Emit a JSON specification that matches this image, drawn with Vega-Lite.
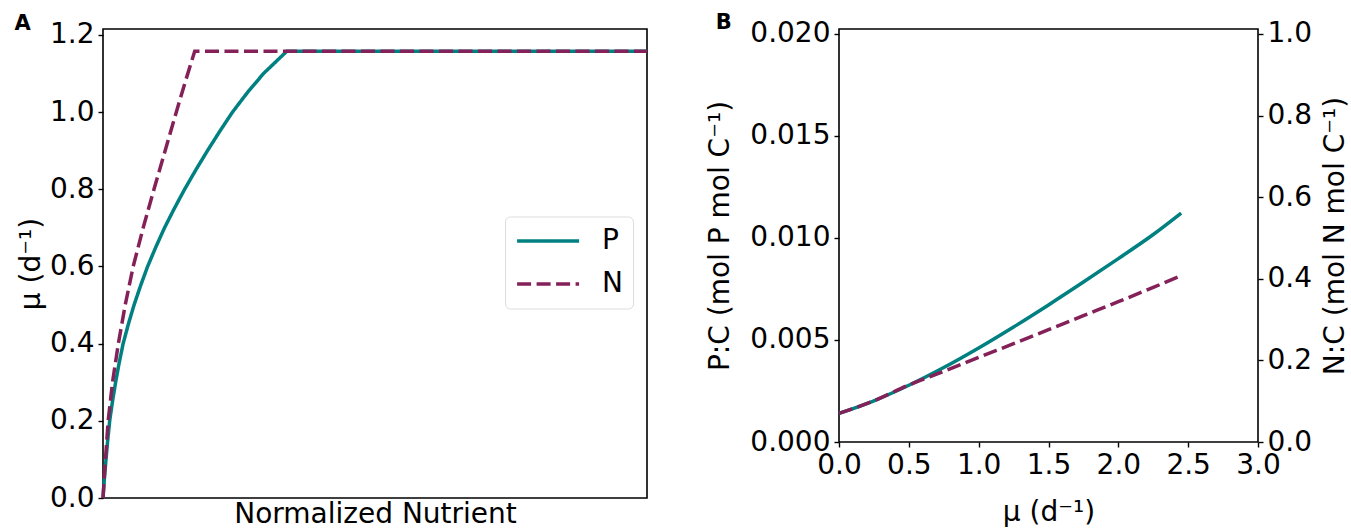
{
  "$schema": "https://vega.github.io/schema/vega-lite/v6.json",
  "padding": {"left": 13, "top": 11, "right": 0, "bottom": 0},
  "spacing": 51,
  "config": {
    "font": "DejaVu Sans",
    "view": {"stroke": "black", "strokeWidth": 1.6},
    "axis": {
      "domainColor": "black", "domainWidth": 1.6,
      "tickColor": "black", "tickWidth": 1.4, "tickSize": 5,
      "labelFontSize": 28, "titleFontSize": 28,
      "labelColor": "black", "titleColor": "black",
      "labelFont": "DejaVu Sans", "titleFont": "DejaVu Sans",
      "titleFontWeight": "normal", "grid": false,
      "labelPadding": 4, "labelFlush": false, "labelOverlap": false
    },
    "title": {"fontSize": 21, "fontWeight": "bold", "anchor": "start", "color": "black", "font": "DejaVu Sans"}
  },
  "datasets": {
    "growth": [
      {"nutrient": "P", "s": 0, "mu": 0},
      {"nutrient": "P", "s": 0.0025, "mu": 0.05},
      {"nutrient": "P", "s": 0.0055, "mu": 0.1},
      {"nutrient": "P", "s": 0.0087, "mu": 0.15},
      {"nutrient": "P", "s": 0.0123, "mu": 0.2},
      {"nutrient": "P", "s": 0.0174, "mu": 0.25},
      {"nutrient": "P", "s": 0.0232, "mu": 0.3},
      {"nutrient": "P", "s": 0.0297, "mu": 0.35},
      {"nutrient": "P", "s": 0.037, "mu": 0.4},
      {"nutrient": "P", "s": 0.0465, "mu": 0.45},
      {"nutrient": "P", "s": 0.057, "mu": 0.5},
      {"nutrient": "P", "s": 0.069, "mu": 0.55},
      {"nutrient": "P", "s": 0.082, "mu": 0.6},
      {"nutrient": "P", "s": 0.097, "mu": 0.65},
      {"nutrient": "P", "s": 0.113, "mu": 0.7},
      {"nutrient": "P", "s": 0.131, "mu": 0.75},
      {"nutrient": "P", "s": 0.150, "mu": 0.8},
      {"nutrient": "P", "s": 0.1705, "mu": 0.85},
      {"nutrient": "P", "s": 0.192, "mu": 0.9},
      {"nutrient": "P", "s": 0.2145, "mu": 0.95},
      {"nutrient": "P", "s": 0.238, "mu": 1.0},
      {"nutrient": "P", "s": 0.265, "mu": 1.05},
      {"nutrient": "P", "s": 0.295, "mu": 1.1},
      {"nutrient": "P", "s": 0.338, "mu": 1.158},
      {"nutrient": "P", "s": 1.0, "mu": 1.158},
      {"nutrient": "N", "s": 0, "mu": 0},
      {"nutrient": "N", "s": 0.0022, "mu": 0.05},
      {"nutrient": "N", "s": 0.0045, "mu": 0.1},
      {"nutrient": "N", "s": 0.0095, "mu": 0.2},
      {"nutrient": "N", "s": 0.0175, "mu": 0.3},
      {"nutrient": "N", "s": 0.0282, "mu": 0.4},
      {"nutrient": "N", "s": 0.0408, "mu": 0.5},
      {"nutrient": "N", "s": 0.0555, "mu": 0.6},
      {"nutrient": "N", "s": 0.0738, "mu": 0.7},
      {"nutrient": "N", "s": 0.0937, "mu": 0.8},
      {"nutrient": "N", "s": 0.1142, "mu": 0.9},
      {"nutrient": "N", "s": 0.1347, "mu": 1.0},
      {"nutrient": "N", "s": 0.1515, "mu": 1.08},
      {"nutrient": "N", "s": 0.1686, "mu": 1.158},
      {"nutrient": "N", "s": 1.0, "mu": 1.158}
    ],
    "quota": [
      {"mu": 0, "pc": 0.0014, "nc": 0.07},
      {"mu": 0.25, "pc": 0.00202, "nc": 0.101},
      {"mu": 0.5, "pc": 0.00278, "nc": 0.1397},
      {"mu": 0.75, "pc": 0.00365, "nc": 0.1731},
      {"mu": 1.0, "pc": 0.00461, "nc": 0.2075},
      {"mu": 1.25, "pc": 0.00564, "nc": 0.2409},
      {"mu": 1.5, "pc": 0.00672, "nc": 0.2752},
      {"mu": 1.75, "pc": 0.00784, "nc": 0.3096},
      {"mu": 2.0, "pc": 0.00899, "nc": 0.3439},
      {"mu": 2.25, "pc": 0.01017, "nc": 0.379},
      {"mu": 2.45, "pc": 0.01122, "nc": 0.4076}
    ]
  },
  "hconcat": [
    {
      "title": {"text": "A", "offset": -13.5, "fontSize": 21, "dx": -3},
      "width": 544,
      "height": 469,
      "data": {"name": "growth"},
      "encoding": {
        "x": {"field": "s", "type": "quantitative",
              "scale": {"domain": [0, 1], "nice": false, "zero": false},
              "axis": {"title": "Normalized Nutrient", "labels": false, "ticks": false, "domain": false, "titlePadding": 2}},
        "y": {"field": "mu", "type": "quantitative",
              "scale": {"domain": [0, 1.2155], "nice": false},
              "axis": {"title": "μ (d⁻¹)", "values": [0, 0.2, 0.4, 0.6, 0.8, 1.0, 1.2], "format": ".1f", "titlePadding": 4, "domain": false}},
        "color": {"field": "nutrient", "type": "nominal",
                  "scale": {"domain": ["P", "N"], "range": ["#008080", "#832158"]},
                  "legend": {"title": null, "orient": "none", "legendX": 402, "legendY": 187.5,
                             "symbolType": "M-1,0L4,0", "symbolSize": 615, "symbolStrokeWidth": 3.5,
                             "labelFontSize": 28, "labelFont": "DejaVu Sans", "labelColor": "black", "labelOffset": 58, "rowPadding": 14,
                             "padding": 10, "strokeColor": "#dddddd", "cornerRadius": 5, "fillColor": "white"}},
        "strokeDash": {"field": "nutrient", "type": "nominal",
                       "scale": {"domain": ["P", "N"], "range": [[1, 0], [14, 5.5]]},
                       "legend": {"title": null, "orient": "none", "legendX": 402, "legendY": 187.5,
                             "symbolType": "M-1,0L4,0", "symbolSize": 615, "symbolStrokeWidth": 3.5,
                             "labelFontSize": 28, "labelFont": "DejaVu Sans", "labelColor": "black", "labelOffset": 58, "rowPadding": 14,
                             "padding": 10, "strokeColor": "#dddddd", "cornerRadius": 5, "fillColor": "white"}}
      },
      "layer": [
        {"transform": [{"filter": "datum.nutrient === 'P'"}], "mark": {"type": "line", "strokeWidth": 3.5}},
        {"transform": [{"filter": "datum.nutrient === 'N'"}], "mark": {"type": "line", "strokeWidth": 3.5}}
      ]
    },
    {
      "title": {"text": "B", "offset": -13.5, "fontSize": 21, "dx": 9},
      "width": 419,
      "height": 413,
      "data": {"name": "quota"},
      "layer": [
        {
          "mark": {"type": "line", "strokeWidth": 3.5, "color": "#008080", "interpolate": "monotone"},
          "encoding": {
            "x": {"field": "mu", "type": "quantitative",
                  "scale": {"domain": [0, 3], "nice": false},
                  "axis": {"title": "μ (d⁻¹)", "values": [0, 0.5, 1, 1.5, 2, 2.5, 3], "format": ".1f", "titlePadding": 19, "domain": false}},
            "y": {"field": "pc", "type": "quantitative",
                  "scale": {"domain": [0, 0.020245], "nice": false},
                  "axis": {"title": "P:C (mol P mol C⁻¹)", "values": [0, 0.005, 0.01, 0.015, 0.02], "format": ".3f", "titlePadding": 15, "domain": false}}
          }
        },
        {
          "mark": {"type": "line", "strokeWidth": 3.5, "color": "#832158", "strokeDash": [14, 5.5], "interpolate": "monotone"},
          "encoding": {
            "x": {"field": "mu", "type": "quantitative"},
            "y": {"field": "nc", "type": "quantitative",
                  "scale": {"domain": [0, 1.01225], "nice": false},
                  "axis": {"orient": "right", "title": "N:C (mol N mol C⁻¹)", "values": [0, 0.2, 0.4, 0.6, 0.8, 1.0], "format": ".1f", "titlePadding": 38, "titleAngle": 270, "domain": false}}
          }
        }
      ],
      "resolve": {"scale": {"y": "independent"}}
    }
  ]
}
